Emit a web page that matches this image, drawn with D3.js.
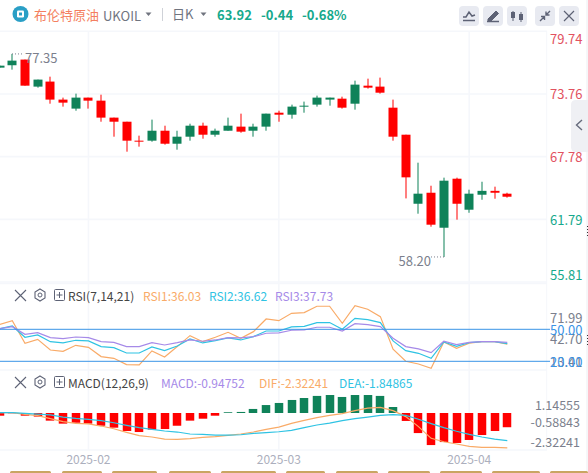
<!DOCTYPE html>
<html><head><meta charset="utf-8">
<script src="https://cdnjs.cloudflare.com/ajax/libs/d3/7.8.5/d3.min.js"></script>
<style>html,body{margin:0;padding:0;background:#fff;overflow:hidden}svg{display:block}text{font-family:"Noto Sans CJK SC","Noto Sans",sans-serif}</style>
</head><body><svg id="c" width="588" height="473"></svg>
<script>
// one entry per trading day; the first one is cut off by the left edge
const open_  = [76.27,76.50,77.04,74.46,74.94,73.22,72.36,73.41,73.12,71.50,71.11,69.30,69.30,70.25,69.01,69.68,70.73,69.87,70.25,70.64,70.25,70.64,71.97,71.78,72.55,72.74,73.22,73.31,72.83,74.55,74.46,72.45,69.87,63.28,64.33,60.99,65.67,62.71,64.14,64.51,64.24];
const high   = [76.46,77.58,77.04,75.13,75.41,73.41,73.79,73.41,73.69,71.50,71.11,69.78,71.31,70.73,70.25,70.92,71.02,70.45,71.50,71.88,70.92,71.88,72.16,72.74,73.03,73.60,73.41,73.50,75.03,75.22,75.32,73.22,69.87,67.20,65.00,65.77,65.77,64.62,65.38,64.91,64.33];
const low    = [76.27,76.08,74.55,74.36,72.83,72.55,72.16,72.36,71.11,69.68,68.25,68.73,69.20,68.92,68.44,69.30,69.49,69.68,70.25,70.06,69.68,70.25,71.11,71.40,71.97,72.55,72.64,72.36,72.26,74.27,73.79,69.30,63.79,62.33,61.09,58.20,61.76,62.42,63.66,63.76,63.86];
const close_ = [76.46,76.94,74.55,75.13,73.22,72.93,73.41,73.12,71.50,71.11,69.30,69.24,70.25,69.01,69.68,70.73,69.87,70.25,70.73,70.16,70.64,71.88,71.78,72.55,72.64,73.41,73.41,72.45,74.65,74.36,73.88,69.68,65.80,64.24,61.28,65.48,63.28,64.24,64.51,64.33,63.95];
const rsi1 = [54.4,58.1,36.9,40.6,30.6,29.4,35,33.1,24.4,22.8,16.9,16.6,29.7,24.1,33.8,44.1,38.4,42.5,47.2,41.6,47.8,59.7,58.1,65,65.6,71.6,71.6,55.6,72.2,68.8,61.9,31.3,20,17.5,13.41,38.1,32.2,36.9,38.4,38.4,36.03];
const rsi2 = [50.6,53.1,42.5,44.7,38.4,37.2,39.7,39.1,33.8,32.8,27.8,27.8,33.4,30,34.4,40.9,37.2,39.4,41.9,40,43.1,48.4,48.4,52.2,52.8,56.3,56.3,50,60.3,59.1,56.3,39.1,30,27.5,22.8,38.1,34.1,37.5,38.4,38.4,36.62];
const rsi3 = [50.6,52.5,45.3,46.9,42.2,41.3,42.8,42.2,38.4,37.8,33.8,33.8,37.5,35.3,37.5,40,38.8,40,42.2,41.9,43.1,46.3,46.6,49.1,49.4,51.9,51.9,48.4,55.3,54.4,52.5,41.6,33.8,31.6,28.1,38.8,35.6,37.8,38.4,38.4,37.73];
const macdHist = [-0.18,-0.02,-0.18,-0.24,-0.51,-0.71,-0.65,-0.71,-0.85,-0.98,-1.20,-1.27,-1.11,-1.07,-0.85,-0.51,-0.38,-0.18,0.05,0.07,0.27,0.53,0.67,0.87,1.0,1.14,1.20,1.07,1.20,1.20,1.14,0.40,-0.53,-1.34,-2.14,-1.94,-2.0,-1.80,-1.47,-1.20,-0.95];
const dif = [0.02,0.02,-0.09,-0.18,-0.38,-0.58,-0.69,-0.73,-0.87,-1.05,-1.29,-1.51,-1.60,-1.74,-1.76,-1.71,-1.63,-1.58,-1.49,-1.40,-1.27,-1.09,-0.94,-0.69,-0.49,-0.31,-0.16,-0.04,0.16,0.33,0.38,0.16,-0.24,-0.91,-1.69,-1.92,-2.07,-2.23,-2.29,-2.29,-2.32241];
const dea = [0.02,0.02,-0.02,-0.07,-0.13,-0.27,-0.36,-0.42,-0.51,-0.65,-0.82,-0.98,-1.09,-1.20,-1.27,-1.40,-1.43,-1.47,-1.47,-1.45,-1.36,-1.31,-1.25,-1.16,-0.98,-0.80,-0.67,-0.51,-0.38,-0.27,-0.16,-0.11,-0.16,-0.42,-0.71,-0.98,-1.22,-1.43,-1.60,-1.74,-1.84865];
const priceTicks = [79.74,73.76,67.78,61.79,55.81];
const rsiTicks = [71.99,42.70,13.41];
const rsiRefs = [50,20];
const macdTicks = [1.14555,-0.58843,-2.32241];
const monthLabels = ["2025-02","2025-03","2025-04"];
const monthIndex = [7,22,37];
const tabEdges = [[10,51],[62,102],[112,157],[169,211],[221,276],[286,325],[336,378],[388,430],[440,482],[492,540],[550,588]];

const svg = d3.select("#c");
const RED="#ff0000", GREEN="#0f8259", ORANGE="#f9ab68", CYAN="#2fc3e3", PURPLE="#a68ae8", GRID="#f5f7fb", BLUE="#3a94e6", TEAL="#16a98c", GREY="#7b7f8d";
const n = open_.length;
const x = d3.scaleLinear().domain([0,n-1]).range([-0.4,507.3]);
const yP = d3.scaleLinear().domain([55.81,79.74]).range([282,31.3]);
const yR = d3.scaleLinear().domain([20,50]).range([361.3,329.3]);
const yM = d3.scaleLinear().domain([-2.32241,0]).range([447.8,413]);
const ids = d3.range(n);
const cx = i => Math.round(x(i));
const clamp=(v,a,b)=>Math.max(a,Math.min(b,v));
const F = (s,a,xx,yy,fill,size,extra={})=>{const t=svg.append("text").attr("x",xx).attr("y",yy).attr("fill",fill).attr("font-size",size).attr("dominant-baseline","central").text(s).attr("text-anchor",a);for(const k in extra)t.attr(k,extra[k]);return t;};

// grids
const g = svg.append("g").attr("stroke",GRID).attr("stroke-width",1.6);
priceTicks.forEach(v=>g.append("line").attr("x1",0).attr("x2",547).attr("y1",yP(v)).attr("y2",yP(v)));
[283.5,370,450].forEach(v=>g.append("line").attr("x1",0).attr("x2",547).attr("y1",v).attr("y2",v));
monthIndex.forEach(i=>g.append("line").attr("x1",x(i)).attr("x2",x(i)).attr("y1",31).attr("y2",450));
g.append("line").attr("x1",546.7).attr("x2",546.7).attr("y1",31).attr("y2",450).attr("stroke-width",1);
svg.append("line").attr("x1",587).attr("x2",587).attr("y1",0).attr("y2",473).attr("stroke","#eceef2");
svg.append("line").attr("x1",587.5).attr("x2",587.5).attr("y1",226).attr("y2",238).attr("stroke","#333").attr("stroke-dasharray","1,2");
svg.append("line").attr("x1",587.5).attr("x2",587.5).attr("y1",335).attr("y2",345).attr("stroke","#333").attr("stroke-dasharray","1,2");

// candles
const cg = svg.append("g");
cg.selectAll(".w").data(ids).join("rect").attr("x",i=>cx(i)-0.5).attr("width",1)
  .attr("y",i=>yP(high[i])).attr("height",i=>yP(low[i])-yP(high[i]))
  .attr("fill",i=>close_[i]>=open_[i]?GREEN:RED);
cg.selectAll(".b").data(ids).join("rect").attr("x",i=>cx(i)-4.5).attr("width",9)
  .attr("y",i=>yP(Math.max(open_[i],close_[i])))
  .attr("height",i=>Math.max(1,Math.abs(yP(open_[i])-yP(close_[i]))))
  .attr("fill",i=>close_[i]>=open_[i]?GREEN:RED);

// high/low annotations
svg.append("line").attr("x1",cx(1)).attr("x2",24).attr("y1",yP(high[1])).attr("y2",yP(high[1])).attr("stroke",GREY).attr("stroke-dasharray","1,2");
F("77.35","start",25,57.5,GREY,13);
svg.append("line").attr("x1",431).attr("x2",cx(35)).attr("y1",yP(58.2)).attr("y2",yP(58.2)).attr("stroke",GREY).attr("stroke-dasharray","1,2");
F("58.20","end",431,260.5,GREY,13);

// price labels
priceTicks.forEach(v=>F(v.toFixed(2),"start",550,clamp(yP(v),38,274.5),v>=67?"#e2525f":TEAL,13));

// RSI
const lineOf = (arr,y)=>d3.line().x((d,i)=>x(i)).y(d=>y(d))(arr);
[[rsi1,ORANGE],[rsi2,CYAN],[rsi3,PURPLE]].forEach(([a,c])=>svg.append("path").attr("d",lineOf(a,yR)).attr("fill","none").attr("stroke",c).attr("stroke-width",1.2));
rsiRefs.forEach(v=>svg.append("line").attr("x1",0).attr("x2",550).attr("y1",yR(v)).attr("y2",yR(v)).attr("stroke",BLUE).attr("stroke-width",1));
rsiTicks.forEach(v=>F(v.toFixed(2),"start",550,clamp(yR(v)+1.5,317.5,361.5),GREY,13));
rsiRefs.forEach(v=>F(v.toFixed(2),"start",550,yR(v)+0.5,BLUE,13));

// MACD
const mg = svg.append("g");
mg.selectAll("rect").data(ids).join("rect").attr("x",i=>cx(i)-4.25).attr("width",8.5)
  .attr("y",i=>macdHist[i]>=0?yM(macdHist[i]):yM(0)).attr("height",i=>Math.abs(yM(macdHist[i])-yM(0)))
  .attr("fill",i=>macdHist[i]>=0?GREEN:RED);
[[dif,ORANGE],[dea,CYAN]].forEach(([a,c])=>svg.append("path").attr("d",lineOf(a,yM)).attr("fill","none").attr("stroke",c).attr("stroke-width",1.2));
macdTicks.forEach(v=>F(String(v),"end",580,clamp(yM(v),404.5,441),GREY,12.5));

// month labels
monthLabels.forEach((s,k)=>F(s,"middle",x(monthIndex[k]),458,"#acafbd",12));
// clipped tabs at the bottom
tabEdges.forEach(e=>svg.append("rect").attr("x",e[0]).attr("width",e[1]-e[0]).attr("y",471).attr("height",4).attr("rx",1.5).attr("fill","#c9a562"));

// header
svg.append("circle").attr("cx",20.5).attr("cy",14).attr("r",8).attr("fill","#2a9fc6");
svg.append("rect").attr("x",17).attr("y",10.5).attr("width",7).attr("height",7).attr("rx",1.2).attr("fill","#fff");
svg.append("rect").attr("x",19).attr("y",12.5).attr("width",3).attr("height",3).attr("fill","#2a9fc6");
F("布伦特原油","start",34,14,"#f47f60",13);
F("UKOIL","start",103,15,"#70747f",13);
const caret=(cxx,cy)=>svg.append("path").attr("d",`M${cxx-3},${cy-2}L${cxx+3},${cy-2}L${cxx},${cy+1.5}Z`).attr("fill","#70747f");
caret(148.5,14.5);
svg.append("line").attr("x1",162.5).attr("x2",162.5).attr("y1",8).attr("y2",21).attr("stroke","#cfd2d8");
F("日K","start",172,13.5,"#70747f",13);
caret(203.5,14.5);
F("63.92","start",217,14,TEAL,13,{"font-weight":700});
F("-0.44","start",261,14,TEAL,13,{"font-weight":700});
F("-0.68%","start",302,14,TEAL,13,{"font-weight":700});

// toolbar
const btn = [459,483,507,535,559];
btn.forEach(b=>svg.append("rect").attr("x",b).attr("y",6).attr("width",20).attr("height",20).attr("rx",4).attr("fill","#e8eaf1"));
const ic="#5d6275";
const P=(d,sw=1.5,fill="none")=>svg.append("path").attr("d",d).attr("stroke",ic).attr("stroke-width",sw).attr("fill",fill);
P("M463,17L466,17L469,12L472,16L475,15");P("M463,20.5H475");
P("M488,19L496,11L498.5,13.5L490.5,21.5L488,21.5Z",1,ic);P("M487,21.5H499",1.5);
P("M513,11V21",1);P("M521,12V22",1);
svg.append("rect").attr("x",511).attr("y",12).attr("width",4).attr("height",6).attr("fill",ic);
svg.append("rect").attr("x",519).attr("y",14).attr("width",4).attr("height",6).attr("fill",ic);
P("M540,21L544,17M541,16.5H544.5V20M550,11L546,15M546,11.5V15H549.5",1.4);
P("M564,11L574,21M574,11L564,21",1.2);

// side tab
svg.append("path").attr("d","M588,100H576Q571,100 571,105V147Q571,152 576,152H588Z").attr("fill","#eff0f4");
svg.append("path").attr("d","M582,120L576.5,125L582,130").attr("fill","none").attr("stroke","#666b7c").attr("stroke-width",1.4);

// indicator rows
function rowIcons(y){
  P(`M15,${y-5}L26,${y+6}M26,${y-5}L15,${y+6}`,1.1);
  P(`M40,${y-6}L45,${y-3}V${y+3}L40,${y+6}L35,${y+3}V${y-3}Z`,1.1);
  svg.append("circle").attr("cx",40).attr("cy",y).attr("r",2).attr("fill","none").attr("stroke",ic);
  svg.append("rect").attr("x",54.5).attr("y",y-5.5).attr("width",10).attr("height",11).attr("rx",1).attr("fill","none").attr("stroke",ic);
  P(`M56.5,${y}H62.5M59.5,${y-3}V${y+3}`,1);
}
rowIcons(295);
F("RSI(7,14,21)","start",68,295,"#444",12);
F("RSI1:36.03","start",143,295,ORANGE,12);
F("RSI2:36.62","start",209,295,CYAN,12);
F("RSI3:37.73","start",275,295,PURPLE,12);
rowIcons(382);
F("MACD(12,26,9)","start",68,382,"#444",12);
F("MACD:-0.94752","start",161,382,PURPLE,12);
F("DIF:-2.32241","start",259,382,ORANGE,12);
F("DEA:-1.84865","start",339,382,CYAN,12);
</script></body></html>
